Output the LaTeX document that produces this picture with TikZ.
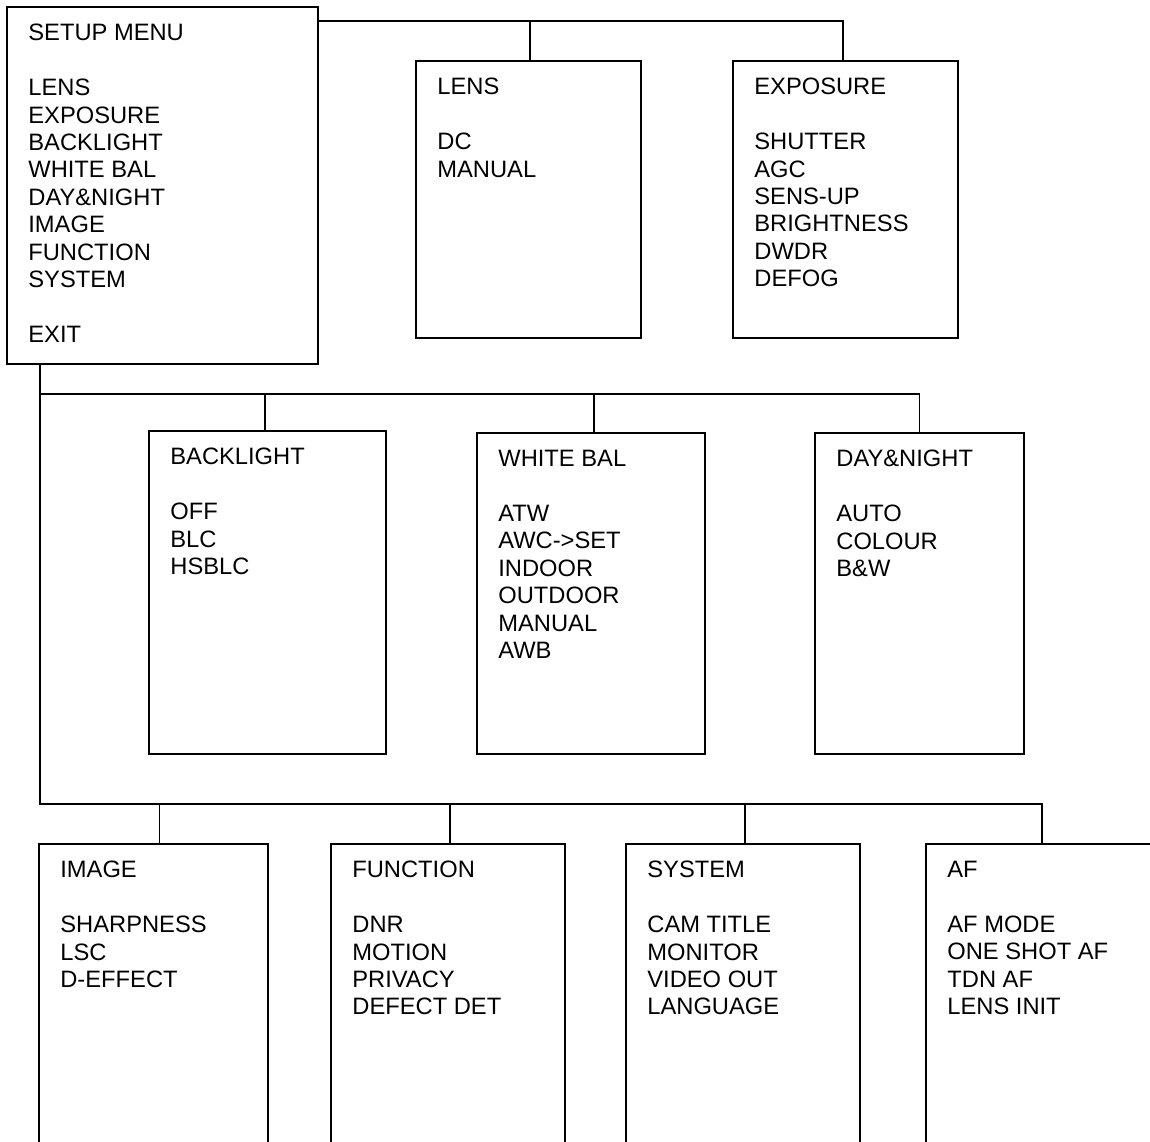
\documentclass[tikz,border=0pt]{standalone}
\usepackage{fontspec}
\setmainfont{Liberation Sans}

\begin{document}
\begin{tikzpicture}[x=0.02cm,y=-0.02cm,
	menu/.style={draw,line width=1.1pt,outer sep=0pt,inner sep=0pt},
	items/.style={anchor=north west,align=left,inner sep=0pt,font=\fontsize{13.5}{15.6}\selectfont},
	link/.style={line width=1.1pt}]
\clip (0,0) rectangle (1150,1142);
\fill[white] (0,0) rectangle (1150,1142);

% main menu
\node[menu,minimum width=6.22cm,minimum height=7.14cm] (setup) at (162.5,185.5) {};
\node[items] (setup text) at ([shift={(21,17)}]setup.north west)
	{SETUP MENU\\[15.6pt]LENS\\EXPOSURE\\BACKLIGHT\\WHITE BAL\\DAY\&NIGHT\\IMAGE\\FUNCTION\\SYSTEM\\[15.6pt]EXIT};

% first row
\node[menu,minimum width=4.5cm,minimum height=5.54cm] (lens) at (528.5,199.5) {};
\node[items] (lens text) at ([shift={(21,17)}]lens.north west)
	{LENS\\[15.6pt]DC\\MANUAL};
\node[menu,minimum width=4.5cm,minimum height=5.54cm] (exposure) at (845.5,199.5) {};
\node[items] (exposure text) at ([shift={(21,17)}]exposure.north west)
	{EXPOSURE\\[15.6pt]SHUTTER\\AGC\\SENS-UP\\BRIGHTNESS\\DWDR\\DEFOG};

% second row
\node[menu,minimum width=4.74cm,minimum height=6.46cm] (backlight) at (267.5,592.5) {};
\node[items] (backlight text) at ([shift={(21,17)}]backlight.north west)
	{BACKLIGHT\\[15.6pt]OFF\\BLC\\HSBLC};
\node[menu,minimum width=4.56cm,minimum height=6.42cm] (whitebal) at (591,593.5) {};
\node[items] (whitebal text) at ([shift={(21,17)}]whitebal.north west)
	{WHITE BAL\\[15.6pt]ATW\\AWC->SET\\INDOOR\\OUTDOOR\\MANUAL\\AWB};
\node[menu,minimum width=4.18cm,minimum height=6.42cm] (daynight) at (919.5,593.5) {};
\node[items] (daynight text) at ([shift={(21,17)}]daynight.north west)
	{DAY\&NIGHT\\[15.6pt]AUTO\\COLOUR\\B\&W};

% third row (runs off the page)
\node[menu,minimum width=4.58cm,minimum height=7.12cm] (image) at (153.5,1022) {};
\node[items] (image text) at ([shift={(21,17)}]image.north west)
	{IMAGE\\[15.6pt]SHARPNESS\\LSC\\D-EFFECT};
\node[menu,minimum width=4.68cm,minimum height=7.12cm] (function) at (448,1022) {};
\node[items] (function text) at ([shift={(21,17)}]function.north west)
	{FUNCTION\\[15.6pt]DNR\\MOTION\\PRIVACY\\DEFECT DET};
\node[menu,minimum width=4.68cm,minimum height=7.12cm] (system) at (743,1022) {};
\node[items] (system text) at ([shift={(21,17)}]system.north west)
	{SYSTEM\\[15.6pt]CAM TITLE\\MONITOR\\VIDEO OUT\\LANGUAGE};
\node[menu,minimum width=4.64cm,minimum height=7.12cm] (af) at (1042,1022) {};
\node[items] (af text) at ([shift={(21,17)}]af.north west)
	{AF\\[15.6pt]AF MODE\\ONE SHOT AF\\TDN AF\\LENS INIT};

% connectors
\coordinate (top bus) at (0,21);
\coordinate (mid bus) at (40,394);
\coordinate (trunk) at (40,804);
\draw[link] (setup.east |- top bus) -| ([xshift=-1.4pt]exposure.north);
\draw[link] ([xshift=0.8pt]lens.north) -- ([xshift=0.8pt]lens.north |- top bus);
\draw[link] (setup.south -| trunk) -- (trunk) -| (af.north);
\draw[link] (mid bus) -| (daynight.north);
\draw[link] ([xshift=-1.4pt]backlight.north) -- ([xshift=-1.4pt]backlight.north |- mid bus);
\draw[link] ([xshift=1.7pt]whitebal.north) -- ([xshift=1.7pt]whitebal.north |- mid bus);
\draw[link] ([xshift=3.4pt]image.north) -- ([xshift=3.4pt]image.north |- trunk);
\foreach \b in {function,system}
	\draw[link] ([xshift=1.1pt]\b.north) -- ([xshift=1.1pt]\b.north |- trunk);
\end{tikzpicture}
\end{document}
